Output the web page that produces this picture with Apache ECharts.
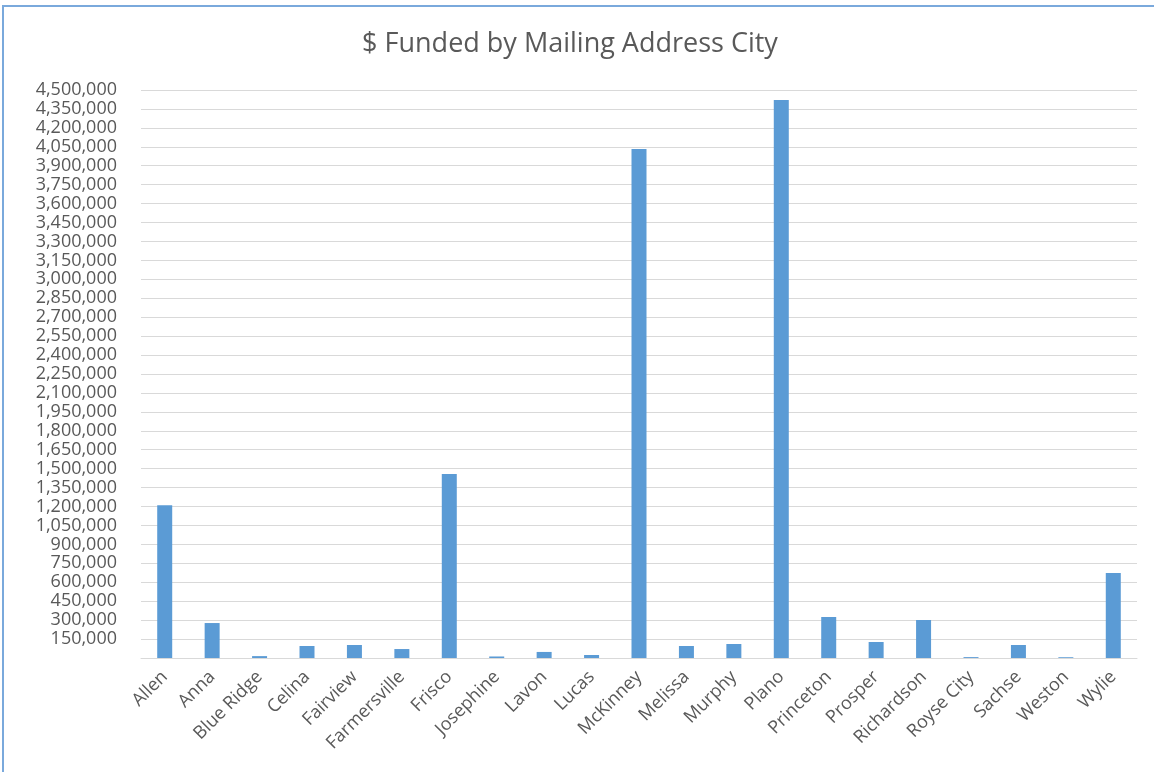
<!DOCTYPE html>
<html>
<head>
<meta charset="utf-8">
<script src="https://cdn.jsdelivr.net/npm/echarts@6/dist/echarts.min.js"></script>
<style>
  html, body { margin: 0; padding: 0; background: #fff; }
  #chart { width: 1154px; height: 772px; }
</style>
</head>
<body>
<div id="chart"></div>
<script>
// ciudades y montos
const cities = ['Allen', 'Anna', 'Blue Ridge', 'Celina', 'Fairview', 'Farmersville', 'Frisco',
  'Josephine', 'Lavon', 'Lucas', 'McKinney', 'Melissa', 'Murphy', 'Plano', 'Princeton',
  'Prosper', 'Richardson', 'Royse City', 'Sachse', 'Weston', 'Wylie']
const funded = [1210000, 277000, 15000, 95000, 103000, 71000, 1458000,
  12000, 48000, 24000, 4033000, 95000, 111000, 4420000, 325000,
  127000, 301000, 7000, 103000, 6000, 673000]

const yMax = 4500000
const yStep = 150000

const chart = echarts.init(document.getElementById('chart'))

const option = {
  animation: false,
  textStyle: { fontFamily: 'Open Sans' },
  title: {
    text: '$ Funded by Mailing Address City',
    left: 565,
    top: 26,
    textAlign: 'center',
    textStyle: { fontSize: 27, fontWeight: 'normal', color: '#595959', fontFamily: 'Open Sans' }
  },
  graphic: [{
    type: 'rect',
    shape: { x: 3, y: 6, width: 1160, height: 780 },
    style: { fill: 'none', stroke: '#7aa9dc', lineWidth: 2 },
    silent: true
  }],
  grid: { left: 141, right: 17, top: 90, bottom: 114 },
  xAxis: {
    type: 'category',
    data: cities,
    axisTick: { show: false },
    axisLine: { lineStyle: { color: '#d9d9d9', width: 1 } },
    axisLabel: {
      rotate: 45,
      interval: 0,
      fontSize: 18,
      color: '#595959',
      margin: 16
    }
  },
  yAxis: {
    type: 'value',
    min: 0,
    max: yMax,
    interval: yStep,
    axisLine: { show: false },
    axisTick: { show: false },
    splitLine: { lineStyle: { color: '#d9d9d9', width: 1 } },
    axisLabel: {
      fontSize: 18,
      color: '#595959',
      margin: 24,
      formatter: v => v === 0 ? '' : v.toLocaleString('en-US')
    }
  },
  series: [{
    type: 'bar',
    data: funded,
    barWidth: 15,
    itemStyle: { color: '#5b9bd5' }
  }]
}

chart.setOption(option)
</script>
</body>
</html>
